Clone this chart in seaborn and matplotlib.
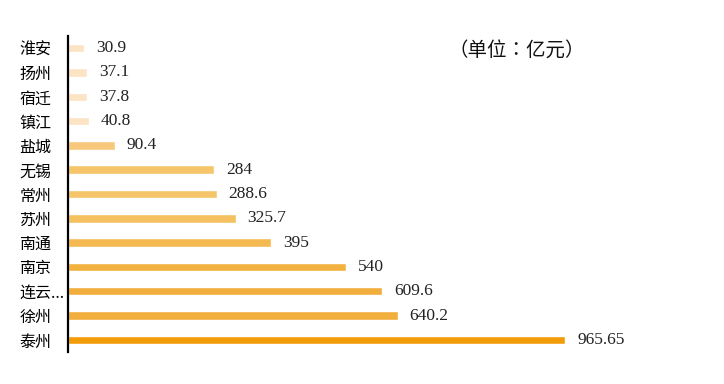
import matplotlib
matplotlib.use("Agg")
import matplotlib.pyplot as plt
import seaborn as sns
import pandas as pd

# data
cities = ["淮安", "扬州", "宿迁", "镇江", "盐城", "无锡", "常州", "苏州", "南通", "南京", "连云...", "徐州", "泰州"]
values = [30.9, 37.1, 37.8, 40.8, 90.4, 284, 288.6, 325.7, 395, 540, 609.6, 640.2, 965.65]
labels = ["30.9", "37.1", "37.8", "40.8", "90.4", "284", "288.6", "325.7", "395", "540", "609.6", "640.2", "965.65"]
colors = ["#fbe3c3", "#fbe3c3", "#fbe3c3", "#fbe3c3", "#f8c97c", "#f6c56a", "#f6c56a",
          "#f5c060", "#f4b950", "#f3b240", "#f2ae3d", "#f2ae3d", "#f39c0a"]

df = pd.DataFrame({"city": cities, "value": values})

sns.set_style("white")
plt.rcParams["font.family"] = ["Noto Sans CJK SC", "DejaVu Sans"]

fig = plt.figure(figsize=(7.24, 3.84), dpi=100)
ax = fig.add_axes([68 / 724, 1 - 352 / 384, 1 - 68 / 724, 316 / 384])

sns.barplot(data=df, y="city", x="value", hue="city", palette=colors,
            legend=False, width=0.35, ax=ax, orient="h", saturation=1)

ax.set_xlim(0, 656 / 0.515)
ax.set_xlabel("")
ax.set_ylabel("")
ax.set_xticks([])
for s in ["top", "right", "bottom"]:
    ax.spines[s].set_visible(False)
ax.spines["left"].set_color("black")
ax.spines["left"].set_linewidth(1.6)
# city names are left aligned in the reference
ax.tick_params(axis="y", length=0, pad=35, labelsize=11.5, labelcolor="black")
for lab in ax.get_yticklabels():
    lab.set_horizontalalignment("left")

for i, (v, t) in enumerate(zip(values, labels)):
    ax.text(v + 23, i, t, va="center", ha="left", fontsize=12.5,
            family="Liberation Serif", color="#222222")

# TC face centres the full-width colon like the reference
fig.text(448 / 724, 1 - 50 / 384, "（单位：亿元）", fontsize=14, va="center", ha="left",
         color="#111111", family=["Noto Sans CJK TC", "Noto Sans CJK SC"])

fig.savefig("out.png", dpi=100)
